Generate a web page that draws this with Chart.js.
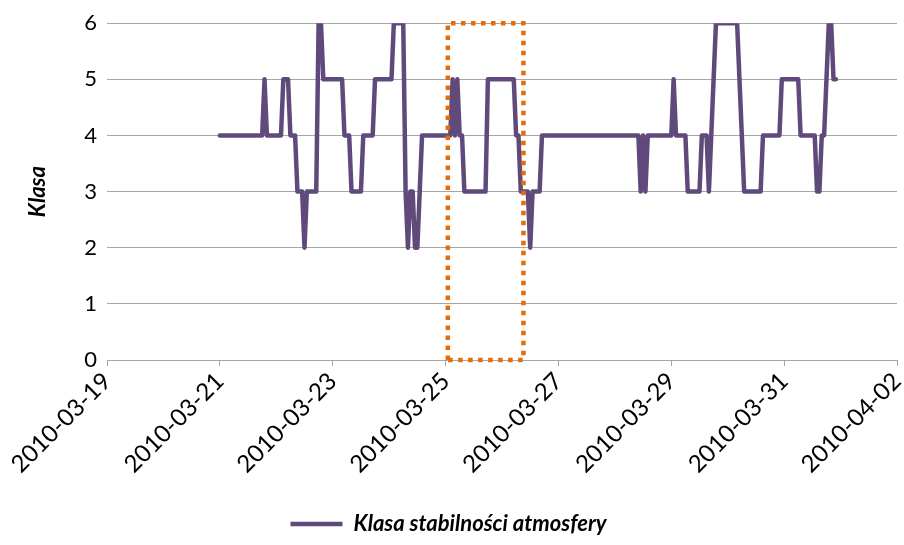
<!DOCTYPE html>
<html>
<head>
<meta charset="utf-8">
<script src="https://cdn.jsdelivr.net/npm/chart.js@4.4.1/dist/chart.umd.min.js"></script>
<style>
  html, body { margin: 0; padding: 0; background: #fff; }
  #wrap { width: 904px; height: 545px; }
</style>
</head>
<body>
<div id="wrap"><canvas id="chart" width="904" height="545"></canvas></div>
<script>
// x axis ticks: every 2 days from 2010-03-19
const dateTicks = ['2010-03-19', '2010-03-21', '2010-03-23', '2010-03-25',
                   '2010-03-27', '2010-03-29', '2010-03-31', '2010-04-02'];

// hourly stability class, one array per day (00:00 .. 23:00)
const d0321 = [4,4,4,4,4,4,4,4,4,4,4,4,4,4,4,4,4,4,4,5,4,4,4,4];
const d0322 = [4,4,4,5,5,5,4,4,4,3,3,3,2,3,3,3,3,3,6,6,5,5,5,5];
const d0323 = [5,5,5,5,5,4,4,4,3,3,3,3,3,4,4,4,4,4,5,5,5,5,5,5];
const d0324 = [5,5,6,6,6,6,6,3,2,3,3,2,2,3,4,4,4,4,4,4,4,4,4,4];
const d0325 = [4,4,4,5,4,5,4,4,3,3,3,3,3,3,3,3,3,3,5,5,5,5,5,5];
const d0326 = [5,5,5,5,5,5,4,4,3,3,3,3,2,3,3,3,3,4,4,4,4,4,4,4];
const d0327 = [4,4,4,4,4,4,4,4,4,4,4,4,4,4,4,4,4,4,4,4,4,4,4,4];
const d0328 = [4,4,4,4,4,4,4,4,4,4,4,3,4,3,4,4,4,4,4,4,4,4,4,4];
const d0329 = [4,5,4,4,4,4,4,3,3,3,3,3,3,4,4,4,3,4,5,6,6,6,6,6];
const d0330 = [6,6,6,6,6,5,4,3,3,3,3,3,3,3,3,4,4,4,4,4,4,4,4,5];
const d0331 = [5,5,5,5,5,5,5,4,4,4,4,4,4,4,3,3,4,4,5,6,6,5,5];

const days = [d0321, d0322, d0323, d0324, d0325, d0326, d0327, d0328, d0329, d0330, d0331];
const firstDay = 2; // 2010-03-21, counted in days from 2010-03-19

// dotted highlight frame (days from 2010-03-19, class)
const frameX = [6.04, 7.38];
const frameY = [0, 6];

const seriesName = 'Klasa stabilności atmosfery';
const FONT = 'Lato, "Open Sans", sans-serif';

const points = [];
days.forEach((vals, d) => {
  vals.forEach((v, h) => points.push({ x: firstDay + d + h / 24, y: v }));
});

const frame = [
  { x: frameX[0], y: frameY[0] }, { x: frameX[0], y: frameY[1] },
  { x: frameX[1], y: frameY[1] }, { x: frameX[1], y: frameY[0] },
  { x: frameX[0], y: frameY[0] }
];

Chart.defaults.color = '#000';
Chart.defaults.font.family = FONT;

const ctx = document.getElementById('chart').getContext('2d');
const chart = new Chart(ctx, {
  type: 'line',
  data: {
    datasets: [
      {
        label: seriesName,
        data: points,
        borderColor: '#604A7B',
        backgroundColor: '#604A7B',
        borderWidth: 4.5,
        pointRadius: 0,
        pointStyle: 'line',
        borderJoinStyle: 'round',
        borderCapStyle: 'round',
        tension: 0,
        order: 2
      },
      {
        label: 'frame',
        data: frame,
        borderColor: '#E46C0A',
        borderWidth: 4.5,
        borderDash: [4.5, 5.5],
        pointRadius: 0,
        fill: false,
        clip: false,
        order: 1
      }
    ]
  },
  options: {
    responsive: false,
    animation: false,
    layout: { padding: { top: 22, right: 7, left: 0, bottom: 0 } },
    scales: {
      x: {
        type: 'linear',
        min: 0,
        max: 14,
        afterFit: (s) => { s.height = 149; s.paddingRight = 0; },
        ticks: {
          stepSize: 2,
          minRotation: 45,
          maxRotation: 45,
          font: { size: 24 },
          padding: 1,
          callback: (v) => dateTicks[v / 2]
        },
        grid: { drawOnChartArea: false, color: '#A6A6A6', tickLength: 6 },
        border: { color: '#A6A6A6', width: 1 }
      },
      y: {
        min: 0,
        max: 6,
        afterFit: (s) => { s.width = 107; },
        ticks: { stepSize: 1, font: { size: 22 }, padding: 10 },
        grid: { color: '#A6A6A6', drawTicks: false },
        border: { display: false },
        title: {
          display: true,
          text: 'Klasa',
          font: { size: 22, style: 'italic', weight: 'bold' },
          padding: { top: 25, bottom: 0 }
        }
      }
    },
    plugins: {
      tooltip: { enabled: false },
      legend: {
        position: 'bottom',
        labels: {
          usePointStyle: true,
          pointStyleWidth: 52,
          padding: 4,
          font: { size: 22, style: 'italic', weight: 'bold' },
          filter: (item) => item.text === seriesName
        }
      }
    }
  }
});
</script>
</body>
</html>
